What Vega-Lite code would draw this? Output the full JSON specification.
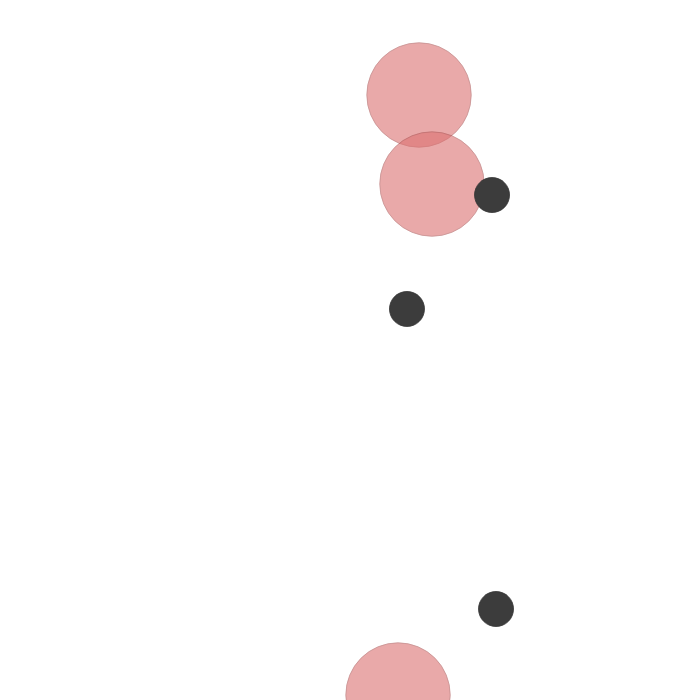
{
  "$schema": "https://vega.github.io/schema/vega-lite/v6.json",
  "autosize": {"type": "none"},
  "width": 700,
  "height": 700,
  "padding": 0,
  "background": "white",
  "config": {"view": {"stroke": null}},
  "data": {"values": [
    {"x": 59.86, "y": 86.43, "kind": "big"},
    {"x": 61.71, "y": 73.71, "kind": "big"},
    {"x": 56.86, "y": 0.71, "kind": "big"},
    {"x": 70.29, "y": 72.14, "kind": "small"},
    {"x": 58.14, "y": 55.86, "kind": "small"},
    {"x": 70.86, "y": 13.0, "kind": "small"}
  ]},
  "mark": {"type": "circle", "strokeWidth": 0.8},
  "encoding": {
    "x": {"field": "x", "type": "quantitative", "scale": {"domain": [0, 100], "nice": false, "zero": false}, "axis": null},
    "y": {"field": "y", "type": "quantitative", "scale": {"domain": [0, 100], "nice": false, "zero": false}, "axis": null},
    "size": {"field": "kind", "type": "nominal", "scale": {"type": "ordinal", "domain": ["big", "small"], "range": [10900, 1225]}, "legend": null},
    "color": {"field": "kind", "type": "nominal", "scale": {"domain": ["big", "small"], "range": ["#dc7171", "#3c3c3c"]}, "legend": null},
    "stroke": {"field": "kind", "type": "nominal", "scale": {"domain": ["big", "small"], "range": ["#a04848", "#333333"]}, "legend": null},
    "opacity": {"field": "kind", "type": "nominal", "scale": {"type": "ordinal", "domain": ["big", "small"], "range": [0.6, 1]}, "legend": null}
  }
}
